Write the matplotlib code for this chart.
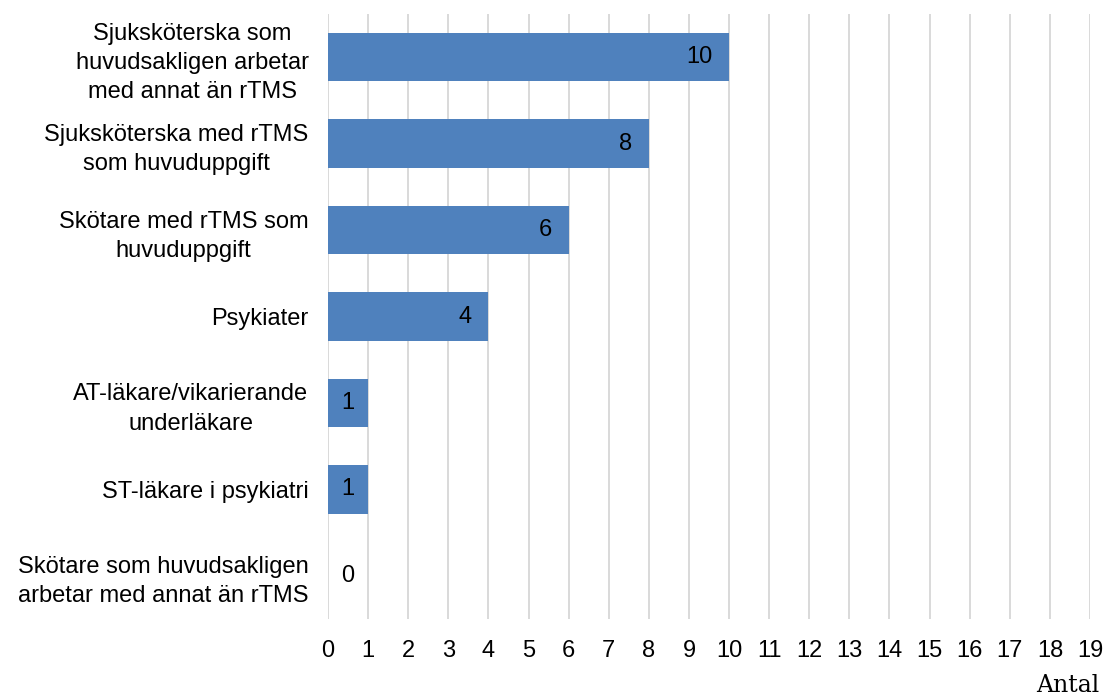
import matplotlib.pyplot as plt
import numpy as np

# data (top to bottom as shown)
categories = [
    "Sjuksköterska som\nhuvudsakligen arbetar\nmed annat än rTMS",
    "Sjuksköterska med rTMS\nsom huvuduppgift",
    "Skötare med rTMS som\nhuvuduppgift",
    "Psykiater",
    "AT-läkare/vikarierande\nunderläkare",
    "ST-läkare i psykiatri",
    "Skötare som huvudsakligen\narbetar med annat än rTMS",
]
values = [10, 8, 6, 4, 1, 1, 0]
xticks = list(range(0, 20))

plt.rcParams['font.family'] = ['Liberation Sans', 'DejaVu Sans']

fig = plt.figure(figsize=(11.07, 6.98), dpi=100)
ax = fig.add_axes([328/1107, 1 - 619/698, (1090 - 328)/1107, (619 - 14)/698])

y = np.arange(len(categories))
ax.barh(y, values, height=0.56, color='#4F81BD', zorder=3)

# data labels, inside end (centered for short bars)
for yi, v in zip(y, values):
    if v >= 2:
        ax.annotate(str(v), (v, yi), xytext=(-17, 0), textcoords='offset pixels',
                    ha='right', va='center', fontsize=17, zorder=4)
    else:
        ax.text(0.5, yi, str(v), ha='center', va='center', fontsize=17, zorder=4)

ax.set_xlim(0, 19)
ax.set_ylim(len(categories) - 0.5, -0.5)
ax.set_yticks(y)
ax.set_yticklabels(categories, fontsize=17, linespacing=1.42)
for lbl in ax.get_yticklabels():
    lbl.set_multialignment('center')
ax.set_xticks(xticks)
ax.set_xticklabels([str(t) for t in xticks], fontsize=17)
ax.tick_params(axis='both', length=0)
ax.tick_params(axis='x', pad=15)
ax.tick_params(axis='y', pad=14)

ax.grid(axis='x', color='#D9D9D9', linewidth=1.4, zorder=0)
for s in ax.spines.values():
    s.set_visible(False)

fig.text(1099/1107, 1 - 685/698, "Antal", family='DejaVu Serif', fontsize=17,
         ha='right', va='center')

fig.savefig('out.png', dpi=100)
